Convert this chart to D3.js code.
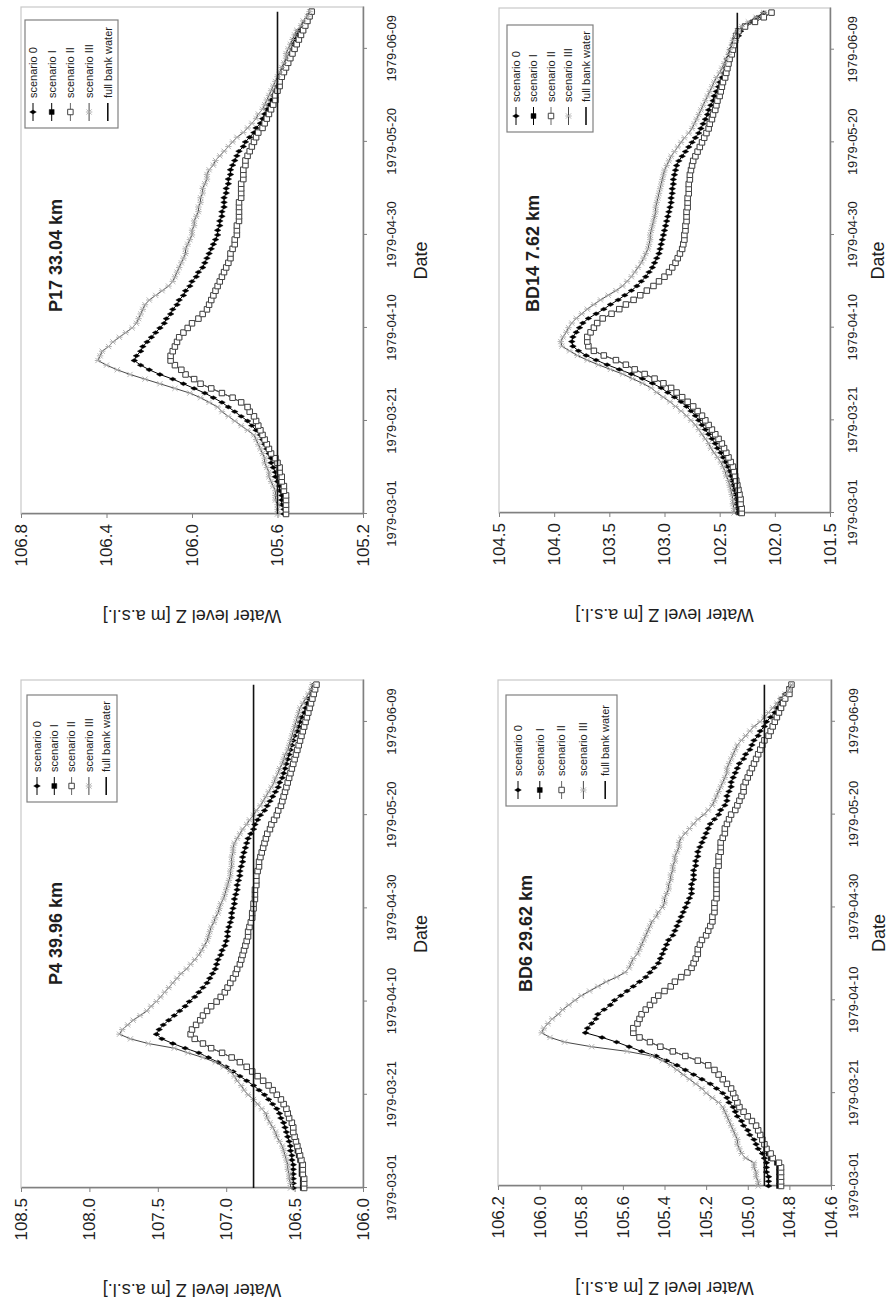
<!DOCTYPE html>
<html>
<head>
<meta charset="utf-8">
<script src="https://cdn.jsdelivr.net/npm/d3@7"></script>
<style>
    body { margin: 0; background: #fff; }
    svg { display: block; }
    text { font-family: "Liberation Sans", Arial, sans-serif; }
</style>
</head>
<body>
<div id="chart"></div>
<script>
// categories: one value per day, 1979-03-01 .. 1979-06-17
var firstDay = "1979-03-01";
var lastAxisDay = "1979-06-18";
var dateTicks = ["1979-03-01", "1979-03-21", "1979-04-10", "1979-04-30", "1979-05-20", "1979-06-09"];
var seriesNames = ["scenario 0", "scenario I", "scenario II", "scenario III", "full bank water"];

// ---- P4 39.96 km
var p4Ticks = [106.0, 106.5, 107.0, 107.5, 108.0, 108.5];
var p4Bank = 106.8;
var p4S0 = [106.51,106.51,106.51,106.51,106.51,106.51,106.52,106.52,106.53,106.53,
    106.54,106.55,106.56,106.57,106.58,106.60,106.61,106.63,106.66,106.69,
    106.72,106.76,106.80,106.85,106.90,106.95,107.00,107.06,107.13,107.20,
    107.30,107.39,107.47,107.51,107.49,107.46,107.42,107.38,107.34,107.30,
    107.27,107.23,107.20,107.17,107.14,107.12,107.10,107.08,107.07,107.06,
    107.04,107.03,107.01,107.00,106.99,106.99,106.98,106.97,106.96,106.96,
    106.95,106.94,106.94,106.93,106.92,106.92,106.91,106.90,106.90,106.89,
    106.88,106.88,106.87,106.86,106.85,106.84,106.82,106.80,106.79,106.77,
    106.75,106.72,106.70,106.68,106.66,106.64,106.62,106.61,106.59,106.58,
    106.57,106.56,106.55,106.54,106.53,106.52,106.51,106.50,106.48,106.47,
    106.46,106.45,106.43,106.42,106.41,106.40,106.38,106.37,106.36];
var p4S1 = [106.44,106.44,106.44,106.45,106.45,106.45,106.46,106.47,106.48,106.48,
    106.49,106.50,106.51,106.51,106.52,106.54,106.55,106.56,106.58,106.60,
    106.63,106.66,106.69,106.73,106.77,106.81,106.85,106.90,106.96,107.03,
    107.11,107.17,107.23,107.26,107.25,107.22,107.19,107.17,107.14,107.11,
    107.07,107.04,107.01,106.99,106.97,106.95,106.93,106.92,106.90,106.89,
    106.88,106.87,106.86,106.85,106.84,106.84,106.83,106.82,106.81,106.81,
    106.80,106.80,106.79,106.79,106.79,106.78,106.78,106.78,106.77,106.76,
    106.76,106.75,106.74,106.73,106.72,106.71,106.70,106.68,106.67,106.65,
    106.63,106.62,106.60,106.59,106.58,106.57,106.56,106.55,106.54,106.53,
    106.52,106.51,106.50,106.49,106.48,106.47,106.46,106.45,106.44,106.43,
    106.42,106.41,106.40,106.39,106.38,106.37,106.36,106.35,106.34];
var p4S2 = [106.43,106.43,106.43,106.44,106.44,106.44,106.45,106.46,106.47,106.48,
    106.49,106.50,106.51,106.51,106.52,106.54,106.55,106.56,106.58,106.60,
    106.63,106.66,106.69,106.73,106.77,106.81,106.85,106.90,106.96,107.03,
    107.11,107.17,107.23,107.26,107.25,107.22,107.19,107.17,107.14,107.11,
    107.07,107.04,107.01,106.99,106.97,106.95,106.93,106.92,106.90,106.89,
    106.88,106.87,106.86,106.85,106.84,106.84,106.83,106.82,106.81,106.81,
    106.80,106.80,106.79,106.79,106.79,106.78,106.78,106.78,106.77,106.76,
    106.76,106.75,106.74,106.73,106.72,106.71,106.70,106.68,106.67,106.65,
    106.63,106.62,106.60,106.59,106.58,106.57,106.56,106.55,106.54,106.53,
    106.52,106.51,106.50,106.49,106.48,106.47,106.46,106.45,106.44,106.43,
    106.42,106.41,106.40,106.39,106.38,106.37,106.36,106.35,106.34];
var p4S3 = [106.53,106.53,106.54,106.54,106.55,106.55,106.56,106.57,106.58,106.59,
    106.61,106.63,106.64,106.66,106.68,106.70,106.71,106.74,106.77,106.80,
    106.84,106.87,106.89,106.92,106.94,106.97,107.02,107.08,107.17,107.28,
    107.38,107.57,107.70,107.78,107.76,107.72,107.68,107.63,107.58,107.55,
    107.51,107.48,107.45,107.42,107.39,107.36,107.33,107.29,107.26,107.23,
    107.20,107.18,107.16,107.14,107.13,107.12,107.11,107.09,107.08,107.06,
    107.05,107.04,107.02,107.01,107.00,106.99,106.98,106.97,106.97,106.96,
    106.96,106.96,106.95,106.95,106.94,106.92,106.90,106.88,106.85,106.83,
    106.80,106.78,106.75,106.73,106.71,106.69,106.67,106.65,106.64,106.62,
    106.61,106.59,106.58,106.57,106.55,106.54,106.53,106.52,106.51,106.50,
    106.49,106.48,106.47,106.46,106.44,106.42,106.40,106.38,106.37];

// ---- P17 33.04 km
var p17Ticks = [105.2, 105.6, 106.0, 106.4, 106.8];
var p17Bank = 105.6;
var p17S0 = [105.57,105.57,105.58,105.58,105.58,105.59,105.59,105.60,105.61,105.61,
    105.62,105.63,105.63,105.64,105.65,105.66,105.67,105.68,105.70,105.72,
    105.74,105.77,105.80,105.83,105.86,105.90,105.94,105.99,106.04,106.09,
    106.15,106.20,106.24,106.27,106.26,106.24,106.23,106.21,106.19,106.17,
    106.15,106.13,106.12,106.10,106.09,106.07,106.06,106.04,106.03,106.01,
    106.00,105.98,105.97,105.95,105.94,105.93,105.92,105.91,105.90,105.89,
    105.88,105.88,105.87,105.87,105.86,105.86,105.85,105.85,105.85,105.84,
    105.84,105.83,105.83,105.82,105.82,105.81,105.80,105.79,105.78,105.76,
    105.75,105.73,105.71,105.70,105.68,105.67,105.66,105.65,105.64,105.63,
    105.62,105.61,105.60,105.59,105.58,105.57,105.57,105.56,105.55,105.54,
    105.53,105.53,105.52,105.51,105.50,105.48,105.47,105.45,105.44];
var p17S1 = [105.56,105.56,105.56,105.56,105.57,105.57,105.57,105.58,105.58,105.59,
    105.59,105.60,105.61,105.63,105.64,105.65,105.66,105.67,105.68,105.69,
    105.70,105.71,105.73,105.74,105.77,105.81,105.86,105.91,105.96,105.99,
    106.03,106.05,106.08,106.10,106.10,106.09,106.08,106.07,106.06,106.04,
    106.02,106.00,105.97,105.95,105.93,105.92,105.91,105.90,105.89,105.88,
    105.87,105.86,105.85,105.84,105.83,105.82,105.82,105.81,105.80,105.80,
    105.79,105.79,105.79,105.78,105.78,105.78,105.78,105.78,105.77,105.77,
    105.77,105.77,105.76,105.76,105.76,105.75,105.75,105.74,105.73,105.72,
    105.71,105.70,105.69,105.67,105.66,105.65,105.64,105.63,105.62,105.61,
    105.61,105.60,105.59,105.59,105.58,105.57,105.56,105.55,105.54,105.53,
    105.52,105.51,105.50,105.49,105.48,105.47,105.46,105.45,105.44];
var p17S2 = [105.56,105.56,105.56,105.56,105.56,105.57,105.57,105.58,105.58,105.59,
    105.59,105.60,105.61,105.63,105.64,105.65,105.66,105.67,105.68,105.69,
    105.70,105.71,105.73,105.74,105.77,105.81,105.86,105.91,105.96,105.99,
    106.03,106.05,106.08,106.10,106.10,106.09,106.08,106.07,106.06,106.04,
    106.02,106.00,105.97,105.95,105.93,105.92,105.91,105.90,105.89,105.88,
    105.87,105.86,105.85,105.84,105.83,105.82,105.82,105.81,105.80,105.80,
    105.79,105.79,105.79,105.78,105.78,105.78,105.78,105.78,105.77,105.77,
    105.77,105.77,105.76,105.76,105.76,105.75,105.75,105.74,105.73,105.72,
    105.71,105.70,105.69,105.67,105.66,105.65,105.64,105.63,105.62,105.61,
    105.61,105.60,105.59,105.59,105.58,105.57,105.56,105.55,105.54,105.53,
    105.52,105.51,105.50,105.49,105.48,105.47,105.46,105.45,105.44];
var p17S3 = [105.60,105.60,105.60,105.61,105.61,105.61,105.62,105.63,105.64,105.64,
    105.65,105.66,105.66,105.67,105.68,105.69,105.70,105.71,105.74,105.77,
    105.80,105.83,105.86,105.88,105.92,105.96,106.01,106.08,106.15,106.22,
    106.29,106.35,106.40,106.44,106.43,106.42,106.39,106.37,106.34,106.31,
    106.28,106.26,106.25,106.24,106.23,106.22,106.20,106.17,106.14,106.11,
    106.09,106.08,106.07,106.06,106.05,106.04,106.03,106.03,106.02,106.01,
    106.00,106.00,105.99,105.99,105.98,105.97,105.97,105.96,105.96,105.95,
    105.95,105.94,105.93,105.93,105.92,105.90,105.89,105.87,105.85,105.83,
    105.81,105.79,105.76,105.74,105.72,105.70,105.69,105.67,105.66,105.65,
    105.64,105.63,105.62,105.61,105.60,105.59,105.58,105.57,105.56,105.56,
    105.55,105.54,105.53,105.52,105.51,105.49,105.48,105.46,105.45];

// ---- BD6 29.62 km
var bd6Ticks = [104.6, 104.8, 105.0, 105.2, 105.4, 105.6, 105.8, 106.0, 106.2];
var bd6Bank = 104.92;
var bd6S0 = [104.90,104.90,104.90,104.91,104.91,104.91,104.92,104.93,104.95,104.96,
    104.97,104.99,105.00,105.02,105.03,105.05,105.06,105.07,105.09,105.10,
    105.12,105.15,105.18,105.22,105.26,105.30,105.34,105.39,105.44,105.51,
    105.57,105.63,105.70,105.78,105.77,105.75,105.73,105.72,105.69,105.66,
    105.64,105.61,105.58,105.55,105.52,105.49,105.47,105.45,105.43,105.42,
    105.41,105.40,105.39,105.38,105.36,105.35,105.34,105.33,105.32,105.31,
    105.30,105.29,105.28,105.27,105.27,105.27,105.26,105.26,105.26,105.25,
    105.25,105.24,105.24,105.23,105.22,105.21,105.20,105.19,105.18,105.16,
    105.14,105.13,105.11,105.10,105.10,105.09,105.08,105.08,105.07,105.06,
    105.05,105.04,105.02,105.01,104.99,104.98,104.97,104.95,104.94,104.92,
    104.91,104.89,104.87,104.86,104.85,104.84,104.82,104.80,104.79];
var bd6S1 = [104.85,104.85,104.85,104.85,104.85,104.86,104.89,104.90,104.91,104.92,
    104.93,104.94,104.95,104.96,104.98,105.00,105.02,105.04,105.05,105.06,
    105.07,105.08,105.10,105.12,105.14,105.16,105.19,105.24,105.30,105.36,
    105.42,105.47,105.52,105.55,105.55,105.53,105.52,105.51,105.49,105.47,
    105.45,105.43,105.40,105.37,105.35,105.32,105.29,105.27,105.26,105.25,
    105.24,105.24,105.23,105.22,105.20,105.19,105.18,105.17,105.17,105.16,
    105.16,105.16,105.15,105.15,105.15,105.15,105.15,105.15,105.15,105.14,
    105.14,105.14,105.13,105.13,105.13,105.12,105.11,105.11,105.10,105.09,
    105.08,105.06,105.05,105.04,105.03,105.02,105.02,105.01,105.00,104.99,
    104.98,104.97,104.96,104.95,104.94,104.93,104.92,104.90,104.89,104.88,
    104.87,104.86,104.85,104.84,104.83,104.82,104.80,104.80,104.79];
var bd6S2 = [104.84,104.84,104.84,104.84,104.84,104.85,104.88,104.89,104.91,104.92,
    104.93,104.94,104.95,104.96,104.98,105.00,105.02,105.04,105.05,105.06,
    105.07,105.08,105.10,105.12,105.14,105.16,105.19,105.24,105.30,105.36,
    105.42,105.47,105.52,105.55,105.55,105.53,105.52,105.51,105.49,105.47,
    105.45,105.43,105.40,105.37,105.35,105.32,105.29,105.27,105.26,105.25,
    105.24,105.24,105.23,105.22,105.20,105.19,105.18,105.17,105.17,105.16,
    105.16,105.16,105.15,105.15,105.15,105.15,105.15,105.15,105.15,105.14,
    105.14,105.14,105.13,105.13,105.13,105.12,105.11,105.11,105.10,105.09,
    105.08,105.06,105.05,105.04,105.03,105.02,105.02,105.01,105.00,104.99,
    104.98,104.97,104.96,104.95,104.94,104.93,104.92,104.90,104.89,104.88,
    104.87,104.86,104.85,104.84,104.83,104.82,104.80,104.80,104.79];
var bd6S3 = [104.95,104.95,104.96,104.96,104.97,104.97,105.01,105.03,105.04,105.05,
    105.05,105.06,105.07,105.08,105.09,105.10,105.11,105.12,105.14,105.17,
    105.20,105.22,105.25,105.28,105.31,105.34,105.37,105.41,105.46,105.58,
    105.75,105.88,105.95,105.99,105.98,105.96,105.94,105.91,105.89,105.86,
    105.83,105.80,105.76,105.72,105.68,105.63,105.59,105.57,105.56,105.55,
    105.53,105.52,105.51,105.50,105.49,105.48,105.47,105.46,105.44,105.43,
    105.41,105.40,105.40,105.39,105.38,105.38,105.37,105.37,105.36,105.36,
    105.35,105.35,105.34,105.33,105.33,105.32,105.30,105.28,105.26,105.24,
    105.21,105.19,105.17,105.16,105.15,105.14,105.13,105.12,105.11,105.10,
    105.10,105.09,105.08,105.07,105.06,105.05,105.03,105.01,104.99,104.97,
    104.94,104.92,104.90,104.88,104.86,104.84,104.82,104.80,104.79];

// ---- BD14 7.62 km
var bd14Ticks = [101.5, 102.0, 102.5, 103.0, 103.5, 104.0, 104.5];
var bd14Bank = 102.34;
var bd14S0 = [102.34,102.34,102.35,102.35,102.36,102.37,102.38,102.39,102.40,102.41,
    102.43,102.45,102.47,102.49,102.52,102.54,102.57,102.60,102.63,102.66,
    102.69,102.72,102.76,102.80,102.85,102.91,102.97,103.03,103.11,103.20,
    103.30,103.41,103.52,103.62,103.71,103.78,103.83,103.84,103.83,103.80,
    103.77,103.74,103.69,103.62,103.55,103.49,103.42,103.36,103.30,103.25,
    103.21,103.17,103.14,103.11,103.09,103.07,103.05,103.04,103.03,103.02,
    103.01,103.00,102.99,102.98,102.97,102.96,102.95,102.94,102.94,102.93,
    102.93,102.92,102.92,102.91,102.90,102.89,102.87,102.84,102.81,102.78,
    102.75,102.72,102.69,102.67,102.65,102.63,102.61,102.60,102.58,102.56,
    102.55,102.53,102.51,102.50,102.48,102.46,102.45,102.44,102.43,102.41,
    102.40,102.38,102.36,102.33,102.31,102.28,102.22,102.16,102.10];
var bd14S1 = [102.31,102.31,102.32,102.32,102.33,102.33,102.34,102.35,102.36,102.37,
    102.38,102.40,102.42,102.44,102.46,102.48,102.51,102.54,102.57,102.60,
    102.63,102.66,102.70,102.74,102.79,102.84,102.89,102.94,103.01,103.09,
    103.18,103.27,103.35,103.44,103.55,103.64,103.69,103.70,103.70,103.67,
    103.64,103.61,103.56,103.48,103.41,103.35,103.28,103.22,103.16,103.10,
    103.05,103.00,102.96,102.93,102.90,102.88,102.86,102.84,102.83,102.82,
    102.82,102.81,102.81,102.80,102.80,102.80,102.79,102.79,102.79,102.78,
    102.78,102.78,102.77,102.77,102.76,102.75,102.74,102.72,102.70,102.68,
    102.66,102.64,102.62,102.60,102.59,102.57,102.56,102.54,102.53,102.52,
    102.50,102.49,102.48,102.47,102.45,102.44,102.43,102.42,102.41,102.39,
    102.38,102.37,102.36,102.35,102.33,102.27,102.18,102.10,102.03];
var bd14S2 = [102.30,102.30,102.31,102.31,102.32,102.33,102.34,102.35,102.36,102.37,
    102.38,102.40,102.42,102.44,102.46,102.48,102.51,102.54,102.57,102.60,
    102.63,102.66,102.70,102.74,102.79,102.84,102.89,102.94,103.01,103.09,
    103.18,103.27,103.35,103.44,103.55,103.64,103.69,103.70,103.70,103.67,
    103.64,103.61,103.56,103.48,103.41,103.35,103.28,103.22,103.16,103.10,
    103.05,103.00,102.96,102.93,102.90,102.88,102.86,102.84,102.83,102.82,
    102.82,102.81,102.81,102.80,102.80,102.80,102.79,102.79,102.79,102.78,
    102.78,102.78,102.77,102.77,102.76,102.75,102.74,102.72,102.70,102.68,
    102.66,102.64,102.62,102.60,102.59,102.57,102.56,102.54,102.53,102.52,
    102.50,102.49,102.48,102.47,102.45,102.44,102.43,102.42,102.41,102.39,
    102.38,102.37,102.36,102.35,102.33,102.27,102.18,102.10,102.03];
var bd14S3 = [102.37,102.37,102.38,102.38,102.39,102.40,102.41,102.42,102.44,102.45,
    102.47,102.49,102.52,102.55,102.58,102.60,102.63,102.66,102.69,102.72,
    102.76,102.80,102.85,102.90,102.95,103.01,103.07,103.12,103.20,103.29,
    103.38,103.49,103.60,103.70,103.79,103.86,103.93,103.94,103.92,103.89,
    103.87,103.84,103.80,103.75,103.70,103.64,103.58,103.51,103.44,103.38,
    103.34,103.30,103.27,103.24,103.21,103.19,103.17,103.15,103.14,103.13,
    103.13,103.12,103.11,103.10,103.09,103.08,103.08,103.07,103.06,103.05,
    103.04,103.03,103.02,103.01,103.00,102.98,102.96,102.94,102.91,102.88,
    102.85,102.82,102.78,102.75,102.73,102.71,102.69,102.67,102.65,102.63,
    102.61,102.59,102.57,102.55,102.53,102.50,102.48,102.46,102.44,102.42,
    102.41,102.39,102.38,102.36,102.34,102.30,102.24,102.17,102.10];

var panels = [
    { title: "P4 39.96 km", ticks: p4Ticks, bank: p4Bank, series: [p4S0, p4S1, p4S2, p4S3] },
    { title: "P17 33.04 km", ticks: p17Ticks, bank: p17Bank, series: [p17S0, p17S1, p17S2, p17S3] },
    { title: "BD6 29.62 km", ticks: bd6Ticks, bank: bd6Bank, series: [bd6S0, bd6S1, bd6S2, bd6S3] },
    { title: "BD14 7.62 km", ticks: bd14Ticks, bank: bd14Bank, series: [bd14S0, bd14S1, bd14S2, bd14S3] }
];

// where each panel sits on the (unrotated) page
var layout = [
    { x0: 115, x1: 623, y0: 21, y1: 363, tx: 318, ty: 62, lx: 501, ly: 27, lw: 107, lh: 90, lr0: 10, lstep: 17.3, datePad: 20, dateTitle: 64 },
    { x0: 789, x1: 1296, y0: 21, y1: 363, tx: 991, ty: 62, lx: 1175, ly: 25, lw: 108, lh: 93, lr0: 8, lstep: 18.7, datePad: 20, dateTitle: 64 },
    { x0: 117, x1: 623, y0: 498, y1: 831, tx: 311, ty: 532, lx: 497, ly: 506, lw: 111, lh: 111, lr0: 12, lstep: 21.8, datePad: 14, dateTitle: 54 },
    { x0: 790, x1: 1295, y0: 499, y1: 830, tx: 991, ty: 539, lx: 1171, ly: 507, lw: 107, lh: 86, lr0: 9, lstep: 17.5, datePad: 14, dateTitle: 54 }
];

var parseDate = d3.utcParse("%Y-%m-%d");
var days = d3.utcDay.range(parseDate(firstDay), parseDate(lastAxisDay));

// the printed page lies on its side: draw it upright (1303 x 889) and turn it
var W = 1303;
var svg = d3.select("#chart").append("svg")
    .attr("width", 889)
    .attr("height", 1303);
svg.append("rect").attr("width", 889).attr("height", 1303).attr("fill", "#fff");
var page = svg.append("g").attr("transform", "translate(0," + W + ") rotate(-90)");

var star = "M-2.6,-2.6L2.6,2.6M-2.6,2.6L2.6,-2.6M0,-3.2L0,3.2";
var styles = [
    { line: "#000", lw: 1, marker: d3.symbol().type(d3.symbolDiamond).size(13)(), fill: "#000", stroke: "#000", mw: 0.4 },
    { line: "#000", lw: 1, marker: d3.symbol().type(d3.symbolSquare).size(24)(), fill: "#000", stroke: "#000", mw: 0.5 },
    { line: "#666", lw: 1, marker: d3.symbol().type(d3.symbolSquare).size(30)(), fill: "#fff", stroke: "#444", mw: 1 },
    { line: "#333", lw: 0.9, marker: star, fill: "none", stroke: "#aaa", mw: 0.9 }
];

function drawPanel(p, L) {
    var g = page.append("g");
    var x = d3.scaleUtc().domain([parseDate(firstDay), parseDate(lastAxisDay)]).range([L.x0, L.x1]);
    var y = d3.scaleLinear().domain([p.ticks[0], p.ticks[p.ticks.length - 1]]).range([L.y1, L.y0]);

    // plot area frame
    g.append("rect")
        .attr("x", L.x0).attr("y", L.y0)
        .attr("width", L.x1 - L.x0).attr("height", L.y1 - L.y0)
        .attr("fill", "#fff")
        .attr("stroke", "#c8c8c8")
        .attr("stroke-width", 1.2);

    var ya = g.append("g")
        .attr("transform", "translate(" + L.x0 + ",0)")
        .call(d3.axisLeft(y).tickValues(p.ticks).tickFormat(d3.format(".1f"))
            .tickSize(4).tickSizeOuter(0).tickPadding(6));
    ya.select(".domain").attr("stroke", "#808080").attr("stroke-width", 1.5);
    ya.selectAll(".tick line").attr("stroke", "#808080");
    ya.selectAll("text").attr("font-size", 17).attr("fill", "#1e1e1e");

    var xa = g.append("g")
        .attr("transform", "translate(0," + L.y1 + ")")
        .call(d3.axisBottom(x).tickValues(dateTicks.map(parseDate)).tickFormat(d3.utcFormat("%Y-%m-%d"))
            .tickSize(4).tickSizeOuter(0).tickPadding(L.datePad));
    xa.select(".domain").attr("stroke", "#808080").attr("stroke-width", 1.5);
    xa.selectAll(".tick line").attr("stroke", "#808080");
    xa.selectAll("text").attr("font-size", 13).attr("fill", "#1e1e1e");

    // axis titles
    g.append("text")
        .attr("transform", "translate(" + (L.x0 - 96) + "," + ((L.y0 + L.y1) / 2) + ") rotate(-90)")
        .attr("text-anchor", "middle")
        .attr("font-size", 18)
        .attr("fill", "#1e1e1e")
        .text("Water level Z [m a.s.l.]");
    g.append("text")
        .attr("x", (L.x0 + L.x1) / 2)
        .attr("y", L.y1 + L.dateTitle)
        .attr("text-anchor", "middle")
        .attr("font-size", 18)
        .attr("fill", "#1e1e1e")
        .text("Date");

    // scenario lines with markers
    p.series.forEach(function(vals, k) {
        var st = styles[k];
        var line = d3.line()
            .x(function(v, i) { return x(days[i]); })
            .y(function(v) { return y(v); });
        g.append("path")
            .attr("d", line(vals))
            .attr("fill", "none")
            .attr("stroke", st.line)
            .attr("stroke-width", st.lw);
        g.append("g").selectAll("path")
            .data(vals)
            .enter()
            .append("path")
            .attr("transform", function(v, i) { return "translate(" + x(days[i]) + "," + y(v) + ")"; })
            .attr("d", st.marker)
            .attr("fill", st.fill)
            .attr("stroke", st.stroke)
            .attr("stroke-width", st.mw);
    });

    // full bank water
    g.append("line")
        .attr("x1", x(days[0])).attr("x2", x(days[days.length - 1]))
        .attr("y1", y(p.bank)).attr("y2", y(p.bank))
        .attr("stroke", "#111")
        .attr("stroke-width", 1.6);

    g.append("text")
        .attr("x", L.tx).attr("y", L.ty)
        .attr("font-size", 18)
        .attr("font-weight", "bold")
        .attr("fill", "#1e1e1e")
        .text(p.title);

    // legend
    var lg = g.append("g");
    lg.append("rect")
        .attr("x", L.lx).attr("y", L.ly)
        .attr("width", L.lw).attr("height", L.lh)
        .attr("fill", "#fff")
        .attr("stroke", "#808080")
        .attr("stroke-width", 1.2);
    seriesNames.forEach(function(name, k) {
        var cy = L.ly + L.lr0 + k * L.lstep;
        var st = k < 4 ? styles[k] : { line: "#111", lw: 1.6 };
        lg.append("line")
            .attr("x1", L.lx + 7).attr("x2", L.lx + 25)
            .attr("y1", cy).attr("y2", cy)
            .attr("stroke", st.line)
            .attr("stroke-width", st.lw);
        if (k < 4) {
            lg.append("path")
                .attr("transform", "translate(" + (L.lx + 16) + "," + cy + ")")
                .attr("d", st.marker)
                .attr("fill", st.fill)
                .attr("stroke", st.stroke)
                .attr("stroke-width", st.mw);
        }
        lg.append("text")
            .attr("x", L.lx + 30).attr("y", cy)
            .attr("dy", "0.35em")
            .attr("font-size", 11)
            .attr("fill", "#1e1e1e")
            .text(name);
    });
}

panels.forEach(function(p, i) { drawPanel(p, layout[i]); });
</script>
</body>
</html>
